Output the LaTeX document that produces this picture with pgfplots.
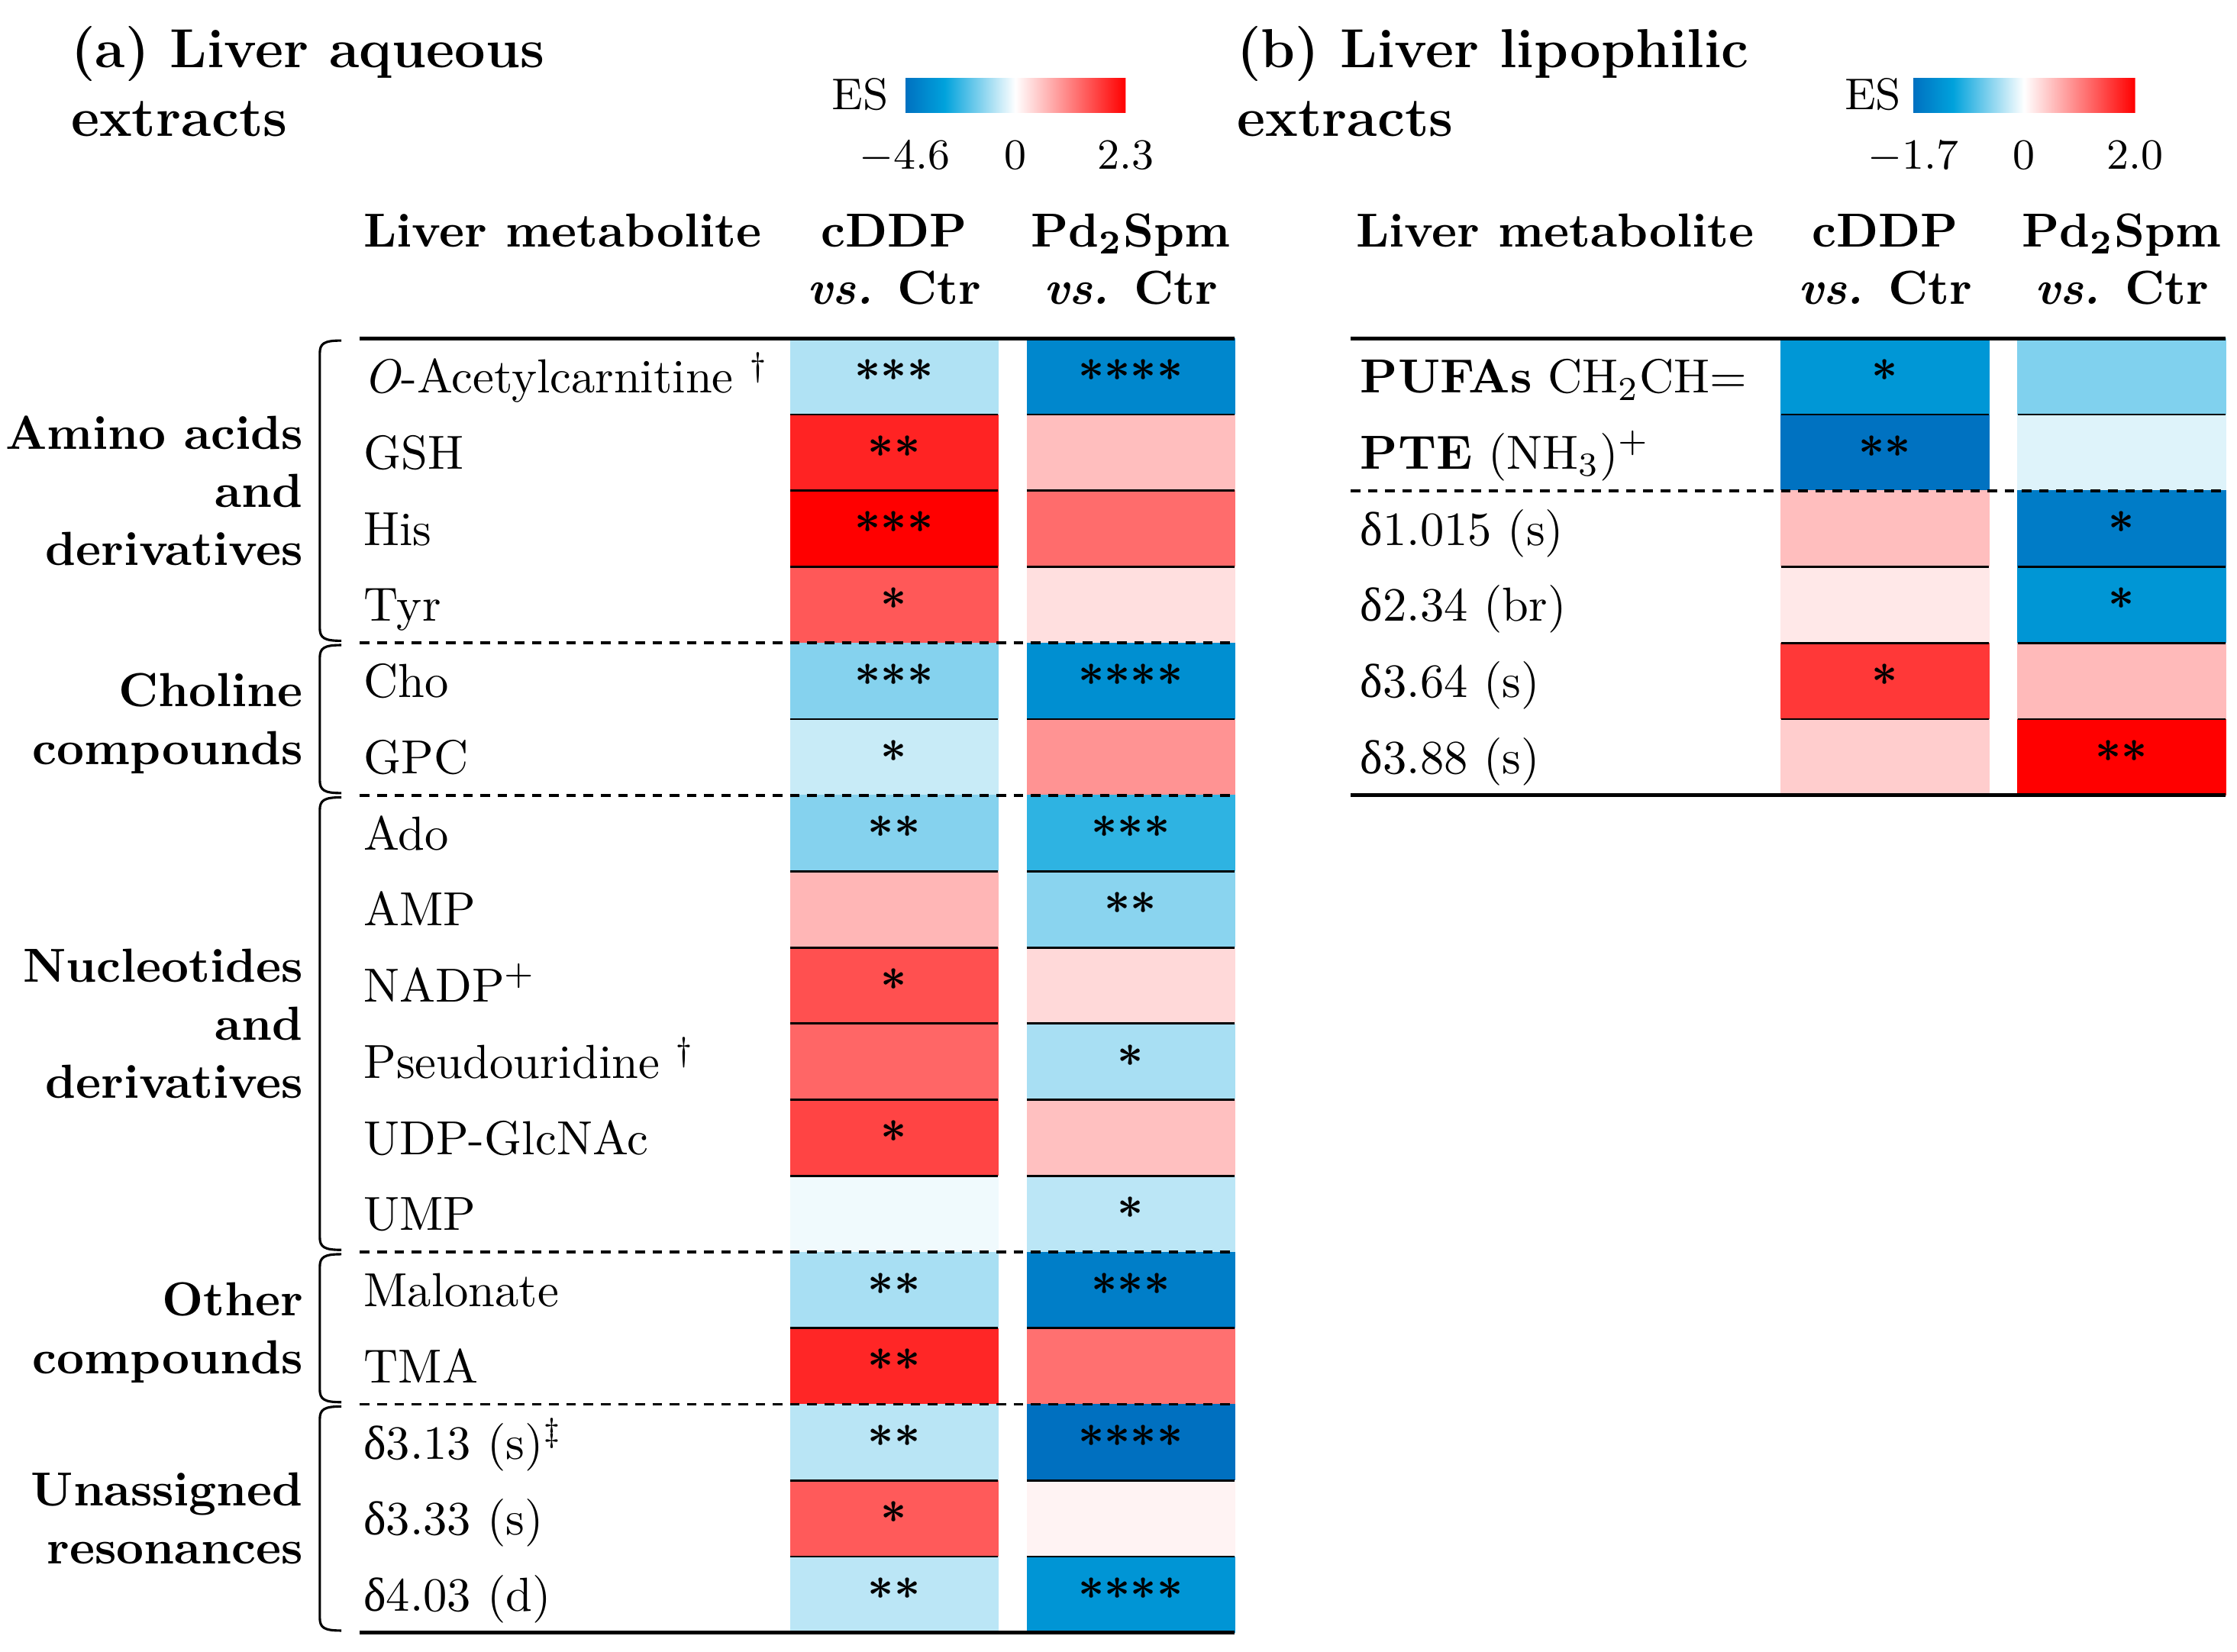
\documentclass[border=0pt]{standalone}
\usepackage{fontspec}
\usepackage{pgfplots}
\pgfplotsset{compat=1.18}
\usepackage{pgfplotstable}
\newfontfamily\grk{Liberation Serif}
\newcommand{\dlt}{{\grk δ}}

% ES values; col 0 = cDDP vs. Ctr, col 1 = Pd2Spm vs. Ctr
\pgfplotstableread{
col row es sig
0 1 -0.91 ***
1 1 -3.84 ****
0 2 1.98 **
1 2 0.59 {}
0 3 2.30 ***
1 3 1.33 {}
0 4 1.51 *
1 4 0.29 {}
0 5 -1.41 ***
1 5 -3.57 ****
0 6 -0.64 *
1 6 0.97 {}
0 7 -1.41 **
1 7 -2.41 ***
0 8 0.66 {}
1 8 -1.35 **
0 9 1.58 *
1 9 0.34 {}
0 10 1.38 {}
1 10 -1.00 *
0 11 1.69 *
1 11 0.57 {}
0 12 -0.17 {}
1 12 -0.79 *
0 13 -1.00 **
1 13 -4.12 ***
0 14 1.96 **
1 14 1.29 {}
0 15 -0.81 **
1 15 -4.60 ****
0 16 1.49 *
1 16 0.11 {}
0 17 -0.79 **
1 17 -3.36 ****
}\aqueous

\pgfplotstableread{
col row es sig
0 1 -1.22 *
1 1 -0.54 {}
0 2 -1.67 **
1 2 -0.14 {}
0 3 0.51 {}
1 3 -1.55 *
0 4 0.18 {}
1 4 -1.24 *
0 5 1.56 *
1 5 0.54 {}
0 6 0.39 {}
1 6 2.00 **
}\lipo

\pgfplotsset{
  colormap={es}{rgb255(0cm)=(0,112,192); rgb255(1.8cm)=(0,162,220);
    rgb255(5cm)=(255,255,255); rgb255(10cm)=(255,0,0)},
  heat/.style={scale only axis, width=93pt, anchor=north west,
    xmin=-0.4394, xmax=1.4394, ymin=0.5, y dir=reverse,
    hide axis, clip=false, colormap name=es,
    point meta min=-1, point meta max=1, colorbar horizontal},
  cells/.style={scatter, only marks, mark=square*, mark size=7.965pt,
    mark options={xscale=2.7307, line width=0.1pt},
    scatter/use mapped color={draw=mapped color, fill=mapped color}},
  stars/.style={draw=none, nodes near coords={\pgfplotspointmeta},
    point meta=explicit symbolic,
    every node near coord/.append style={anchor=center, inner sep=0pt,
      text=black, font=\fontsize{9.5}{9.5}\selectfont\bfseries}},
  cbar/.style={at={(parent axis.north west)}, anchor=south west,
    yshift=55.8pt, height=7.2pt, scale only axis,
    xtick={-1,0,1}, major tick length=0pt, xtick style={draw=none},
    axis line style={draw=none},
    xticklabel style={font=\fontsize{9.3}{11}\selectfont, yshift=-2.5pt}}
}

\begin{document}
\begin{tikzpicture}
\path[use as bounding box] (0,0) rectangle (468pt,-345.6pt);

% (a) aqueous extracts
\begin{axis}[heat, at={(165.3pt,-70.8pt)}, height=270.81pt, ymax=17.5,
  colorbar style={cbar, xshift=24.0pt, width=46.2pt,
    xticklabels={$-4.6$,$0$,$2.3$}}]
\addplot[cells, point meta={ifthenelse(\thisrow{es}<0,\thisrow{es}/4.6,\thisrow{es}/2.3)}]
  table[x=col, y=row] {\aqueous};
\addplot[stars] table[x=col, y=row, meta=sig] {\aqueous};
\end{axis}

% (b) lipophilic extracts
\begin{axis}[heat, at={(372.6pt,-70.8pt)}, height=95.58pt, ymax=6.5,
  colorbar style={cbar, xshift=27.6pt, width=46.5pt,
    xticklabels={$-1.7$,$0$,$2.0$}}]
\addplot[cells, point meta={ifthenelse(\thisrow{es}<0,\thisrow{es}/1.7,\thisrow{es}/2.0)}]
  table[x=col, y=row] {\lipo};
\addplot[stars] table[x=col, y=row, meta=sig] {\lipo};
\end{axis}

\begin{scope}[x=0.3pt, y=-0.3pt,
  lab/.style={inner sep=0pt, font=\fontsize{10}{12}\selectfont},
  hd/.style={inner sep=0pt, font=\fontsize{10}{12}\selectfont\bfseries},
  ttl/.style={inner sep=0pt, anchor=base west, font=\fontsize{11.5}{13}\selectfont\bfseries}]

% titles and colourbar labels
\node[ttl] at (49,47) {(a) Liver aqueous};
\node[ttl] at (49,95) {extracts};
\node[ttl] at (862,47) {(b) Liver lipophilic};
\node[ttl] at (862,95) {extracts};
\node[inner sep=0pt, font=\fontsize{9.3}{11}\selectfont] at (600,66) {ES};
\node[inner sep=0pt, font=\fontsize{9.3}{11}\selectfont] at (1306,66) {ES};

% column headers
\node[hd, anchor=base west] at (253,172) {Liver metabolite};
\node[hd, anchor=base] at (623.5,172) {cDDP};
\node[hd, anchor=base] at (623.5,212) {\textit{vs.} Ctr};
\node[hd, anchor=base] at (788.5,172) {Pd\textsubscript{2}Spm};
\node[hd, anchor=base] at (788.5,212) {\textit{vs.} Ctr};
\node[hd, anchor=base west] at (945,172) {Liver metabolite};
\node[hd, anchor=base] at (1314.5,172) {cDDP};
\node[hd, anchor=base] at (1314.5,212) {\textit{vs.} Ctr};
\node[hd, anchor=base] at (1479.5,172) {Pd\textsubscript{2}Spm};
\node[hd, anchor=base] at (1479.5,212) {\textit{vs.} Ctr};

% row labels (a)
\foreach \i/\t in {1/{\textit{O}-Acetylcarnitine \textsuperscript{\textdagger}}, 2/GSH, 3/His,
  4/Tyr, 5/Cho, 6/GPC, 7/Ado, 8/AMP, 9/{NADP\textsuperscript{+}},
  10/{Pseudouridine \textsuperscript{\textdagger}}, 11/UDP-GlcNAc, 12/UMP,
  13/Malonate, 14/TMA, 15/{\dlt3.13 (s)\textsuperscript{\textdaggerdbl}},
  16/{\dlt3.33 (s)}, 17/{\dlt4.03 (d)}}
  \node[lab, anchor=base west] at (253,{220.95+53.1*\i}) {\t};

% row labels (b)
\foreach \i/\t in {1/{\textbf{PUFAs} CH\textsubscript{2}CH=},
  2/{\textbf{PTE} (NH\textsubscript{3})\textsuperscript{+}},
  3/{\dlt1.015 (s)}, 4/{\dlt2.34 (br)}, 5/{\dlt3.64 (s)}, 6/{\dlt3.88 (s)}}
  \node[lab, anchor=base west] at (948,{220.95+53.1*\i}) {\t};

% group labels (a)
\foreach \y/\t in {313.2/Amino acids, 353.7/and, 394.2/derivatives,
  492.75/Choline, 533.25/compounds,
  684.9/Nucleotides, 725.4/and, 765.9/derivatives,
  917.55/Other, 958.05/compounds,
  1050.3/Unassigned, 1090.8/resonances}
  \node[hd, anchor=base east] at (212,\y) {\t};

% brackets
\foreach \a/\b in {0/4, 4/6, 6/12, 12/14, 14/17}{
  \pgfmathsetmacro{\ta}{236+53.1*\a+1.5}
  \pgfmathsetmacro{\tb}{236+53.1*\b-1.5}
  \draw[line width=0.5pt] (238,\ta) .. controls (226,\ta) and (223,\ta+2) .. (223,\ta+9)
    -- (223,\tb-9) .. controls (223,\tb-2) and (226,\tb) .. (238,\tb);
}

% rules (a)
\foreach \k in {1,2,3,5,7,8,9,10,11,13,15,16}{
  \pgfmathsetmacro{\yy}{236+53.1*\k}
  \draw[line width=0.45pt] (551,\yy) -- (696,\yy) (716,\yy) -- (861,\yy);
}
\foreach \k in {4,6,12,14}{
  \pgfmathsetmacro{\yy}{236+53.1*\k}
  \draw[line width=0.6pt, dash pattern=on 2pt off 1.6pt] (251,\yy) -- (861,\yy);
}
\draw[line width=0.85pt] (251,236) -- (861,236) (251,1138.7) -- (861,1138.7);

% rules (b)
\foreach \k in {1,3,4,5}{
  \pgfmathsetmacro{\yy}{236+53.1*\k}
  \draw[line width=0.45pt] (1242,\yy) -- (1387,\yy) (1407,\yy) -- (1552,\yy);
}
\draw[line width=0.6pt, dash pattern=on 2pt off 1.6pt] (942,342.2) -- (1552,342.2);
\draw[line width=0.85pt] (942,236) -- (1552,236) (942,554.6) -- (1552,554.6);
\end{scope}
\end{tikzpicture}
\end{document}
